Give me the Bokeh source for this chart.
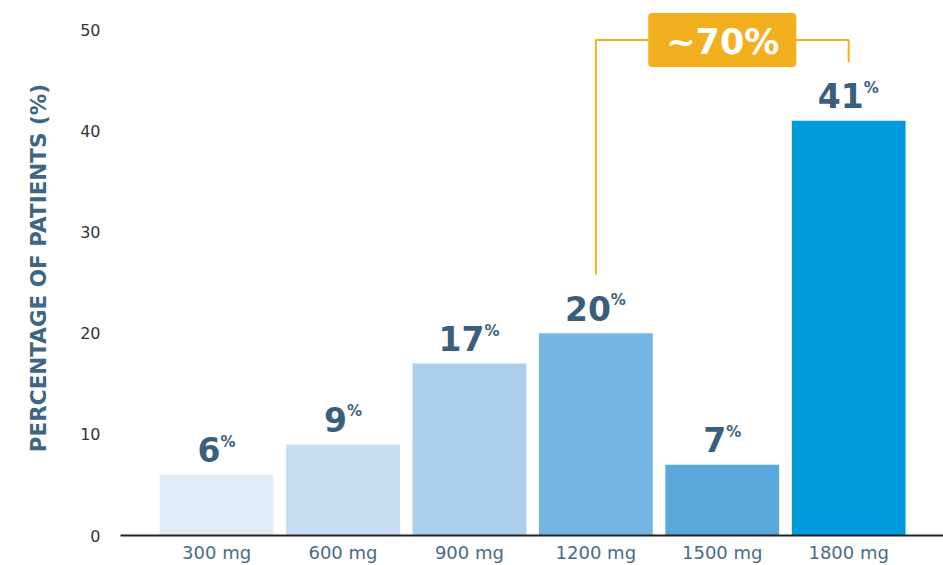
from bokeh.plotting import figure
from bokeh.models import Range1d, FixedTicker, Label, ColumnDataSource
from bokeh.core.properties import value
from bokeh.embed import file_html
from bokeh.resources import INLINE

# ---- data ----
doses = ["300 mg", "600 mg", "900 mg", "1200 mg", "1500 mg", "1800 mg"]
percent = [6, 9, 17, 20, 7, 41]
bar_colors = ["#e0ecf8", "#c7ddf2", "#acd0ec", "#74b6e3", "#5ba8dc", "#009bdd"]
y_ticks = [0, 10, 20, 30, 40, 50]
y_label = "PERCENTAGE OF PATIENTS (%)"
bracket_from = "1200 mg"
bracket_to = "1800 mg"
bracket_top = 49
bracket_text = "~70%"

# ---- styles ----
NUM_COLOR = "#3a5f7e"
GOLD = "#f2b01e"
DIGIT_W = 22
PCT_W = 14

xs = list(range(len(doses)))
src = ColumnDataSource(dict(
    x=xs,
    top=percent,
    color=bar_colors,
    num=[str(v) for v in percent],
    pct=["%"] * len(percent),
    xo=[(len(str(v)) * DIGIT_W - PCT_W) / 2 for v in percent],
))

p = figure(width=943, height=565, output_backend="svg", toolbar_location=None,
           x_range=Range1d(-0.76, 5.75), y_range=Range1d(0, 52.9),
           min_border_left=120, min_border_right=0, min_border_top=0,
           min_border_bottom=0)
p.outline_line_color = None
p.background_fill_color = "white"
p.border_fill_color = "white"
p.xgrid.grid_line_color = None
p.ygrid.grid_line_color = None

p.vbar(x="x", top="top", width=0.9, color="color", line_color=None, source=src)

p.text(x="x", y="top", text="num", source=src, x_offset="xo", y_offset=-25,
       text_font=value("DejaVu Sans"), text_font_style="bold",
       text_font_size="33px", text_color=NUM_COLOR, text_align="right",
       text_baseline="alphabetic")
p.text(x="x", y="top", text="pct", source=src, x_offset="xo", y_offset=-33,
       text_font=value("DejaVu Sans"), text_font_style="bold",
       text_font_size="15px", text_color=NUM_COLOR, text_align="left",
       text_baseline="alphabetic")

# bracket
i0 = doses.index(bracket_from)
i1 = doses.index(bracket_to)
gap = 5.8
p.line(x=[i0, i0, i1, i1],
       y=[percent[i0] + gap, bracket_top, bracket_top, percent[i1] + gap],
       line_color=GOLD, line_width=2)
lab = Label(x=(i0 + i1) / 2, y=bracket_top, text=bracket_text,
            text_font="DejaVu Sans", text_font_style="bold",
            text_font_size="35px", text_color="white",
            text_align="center", text_baseline="middle",
            background_fill_color=GOLD, border_line_color=None,
            padding=dict(left=18, right=17, top=9, bottom=5),
            border_radius=4)
p.add_layout(lab)

# axes
p.xaxis.ticker = FixedTicker(ticks=xs)
p.xaxis.major_label_overrides = {i: d for i, d in zip(xs, doses)}
p.xaxis.axis_line_color = "#222222"
p.xaxis.axis_line_width = 2
p.xaxis.major_tick_line_color = None
p.xaxis.minor_tick_line_color = None
p.xaxis.major_tick_out = 0
p.xaxis.major_label_standoff = 6
p.xaxis.axis_label_standoff = 0
p.xaxis.major_label_text_font = "DejaVu Sans"
p.xaxis.major_label_text_font_size = "18px"
p.xaxis.major_label_text_color = "#4a6b86"

p.yaxis.ticker = FixedTicker(ticks=y_ticks)
p.yaxis.axis_line_color = None
p.yaxis.major_tick_line_color = None
p.yaxis.minor_tick_line_color = None
p.yaxis.major_tick_out = 0
p.yaxis.major_label_standoff = 20
p.yaxis.major_label_text_font = "DejaVu Sans"
p.yaxis.major_label_text_font_size = "16px"
p.yaxis.major_label_text_color = "#333333"
p.yaxis.axis_label = y_label
p.yaxis.axis_label_standoff = 26
p.yaxis.axis_label_text_font = "DejaVu Sans"
p.yaxis.axis_label_text_font_style = "bold"
p.yaxis.axis_label_text_font_size = "21.5px"
p.yaxis.axis_label_text_color = "#3d6584"

open("out.html", "w").write(file_html(p, INLINE))
